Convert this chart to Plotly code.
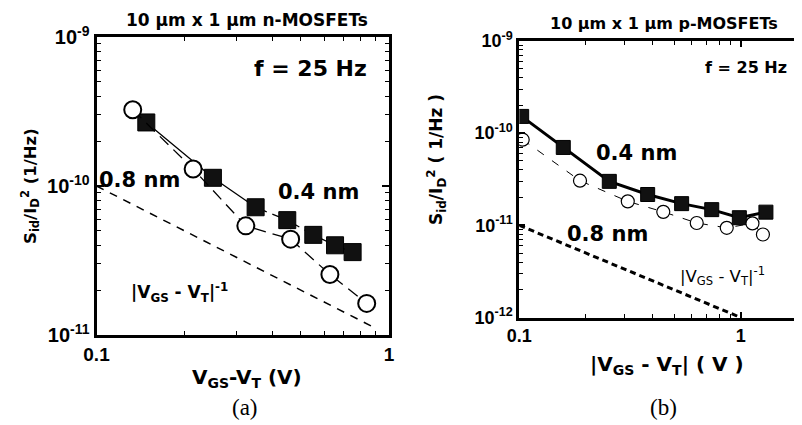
import plotly.graph_objects as go

# ---------------- data ----------------
# Panel (a): n-MOSFETs
a_sq_x = [0.148, 0.250, 0.350, 0.449, 0.551, 0.654, 0.751]          # 0.4 nm
a_sq_y = [2.67e-10, 1.135e-10, 7.2e-11, 5.9e-11, 4.7e-11, 4.0e-11, 3.6e-11]
a_ci_x = [0.133, 0.214, 0.324, 0.461, 0.628, 0.839]                  # 0.8 nm
a_ci_y = [3.25e-10, 1.30e-10, 5.4e-11, 4.4e-11, 2.55e-11, 1.63e-11]
a_ref_x = [0.1, 0.9]                                                  # |VGS-VT|^-1
a_ref_y = [1.0e-10, 1.11e-11]

# Panel (b): p-MOSFETs
b_sq_x = [0.1025, 0.158, 0.255, 0.380, 0.541, 0.740, 0.986, 1.30]   # 0.4 nm
b_sq_y = [1.52e-10, 7.0e-11, 3.0e-11, 2.16e-11, 1.72e-11, 1.48e-11, 1.21e-11, 1.39e-11]
b_ci_x = [0.1036, 0.188, 0.309, 0.447, 0.633, 0.865, 1.13, 1.26]    # 0.8 nm
b_ci_y = [8.5e-11, 3.05e-11, 1.82e-11, 1.40e-11, 1.06e-11, 9.4e-12, 1.05e-11, 7.95e-12]
b_ref_x = [0.1, 1.0]
b_ref_y = [1.0e-11, 1.0e-12]

# ticks
a_xticks = [0.1, 1]
a_xtext = ["0.1", "1"]
a_yticks = [1e-11, 1e-10, 1e-9]
a_ytext = ["10<sup>-11</sup>", "10<sup>-10</sup>", "10<sup>-9</sup>"]
b_xticks = [0.1, 1]
b_xtext = ["0.1", "1"]
b_yticks = [1e-12, 1e-11, 1e-10, 1e-9]
b_ytext = ["10<sup>-12</sup>", "10<sup>-11</sup>", "10<sup>-10</sup>", "10<sup>-9</sup>"]
minor_x = [0.2, 0.3, 0.4, 0.5, 0.6, 0.7, 0.8, 0.9, 2]
minor_y = [m * 10.0 ** e for e in (-12, -11, -10) for m in range(2, 10)]

# the page body has a default 8px margin; size the figure to fill the rest of the window
OFF = 8
W, H = 802 - OFF, 425 - OFF
SANS = "Liberation Sans, Arial, sans-serif"
WIDE = "DejaVu Sans, Verdana, sans-serif"
SERIF = "Liberation Serif, Times New Roman, serif"


def px(x):
    return (x - OFF) / W


def py(y):
    return 1 - (y - OFF) / H


fig = go.Figure()

# ---- panel (a) ----
fig.add_trace(go.Scatter(x=a_ref_x, y=a_ref_y, mode="lines",
                         line=dict(color="black", width=1.5, dash="8px,7px"),
                         xaxis="x", yaxis="y", showlegend=False))
fig.add_trace(go.Scatter(x=a_sq_x[:3], y=a_sq_y[:3], mode="lines",
                         line=dict(color="black", width=1.3),
                         xaxis="x", yaxis="y", showlegend=False))
fig.add_trace(go.Scatter(x=a_sq_x[2:], y=a_sq_y[2:], mode="lines",
                         line=dict(color="black", width=1.3, dash="12px,6px"),
                         xaxis="x", yaxis="y", showlegend=False))
fig.add_trace(go.Scatter(x=a_sq_x, y=a_sq_y, mode="markers",
                         marker=dict(symbol="square", size=17, color="#111111",
                                     line=dict(color="black", width=1)),
                         xaxis="x", yaxis="y", showlegend=False))
fig.add_trace(go.Scatter(x=a_ci_x, y=a_ci_y, mode="lines+markers",
                         line=dict(color="black", width=1.3, dash="12px,7px"),
                         marker=dict(symbol="circle", size=17, color="white",
                                     line=dict(color="black", width=2)),
                         xaxis="x", yaxis="y", showlegend=False))

# ---- panel (b) ----
fig.add_trace(go.Scatter(x=b_ref_x, y=b_ref_y, mode="lines",
                         line=dict(color="black", width=3, dash="6px,4px"),
                         xaxis="x2", yaxis="y2", showlegend=False))
fig.add_trace(go.Scatter(x=b_sq_x, y=b_sq_y, mode="lines+markers",
                         line=dict(color="black", width=3),
                         marker=dict(symbol="square", size=14, color="#111111",
                                     line=dict(color="black", width=1)),
                         xaxis="x2", yaxis="y2", showlegend=False))
fig.add_trace(go.Scatter(x=b_ci_x, y=b_ci_y, mode="lines+markers",
                         line=dict(color="black", width=1, dash="8px,10px"),
                         marker=dict(symbol="circle", size=13, color="white",
                                     line=dict(color="black", width=1.2)),
                         xaxis="x2", yaxis="y2", showlegend=False))

axis_common = dict(type="log", showline=True, linecolor="black", linewidth=3,
                   ticks="inside", tickcolor="black", tickwidth=1.5,
                   showgrid=False, zeroline=False, tickmode="array",
                   automargin=False)

fig.update_layout(
    template="none",
    width=W, height=H,
    margin=dict(l=0, r=0, t=0, b=0, pad=0),
    paper_bgcolor="white", plot_bgcolor="white",
    font=dict(family=SANS, color="black"),
    xaxis=dict(axis_common, domain=[px(96.5), px(389)], range=[-1, 0], anchor="y",
               mirror="ticks", ticklen=7,
               tickvals=a_xticks, ticktext=["<b>%s</b>" % t for t in a_xtext],
               tickfont=dict(size=19, family=SANS, color="black"),
               minor=dict(ticks="inside", ticklen=4, tickwidth=1.2, tickcolor="black",
                          tickmode="array", tickvals=minor_x, showgrid=False)),
    yaxis=dict(axis_common, domain=[py(335), py(37)], range=[-11, -9], anchor="x",
               mirror="ticks", ticklen=7,
               tickvals=a_yticks, ticktext=["<b>%s</b>" % t for t in a_ytext],
               tickfont=dict(size=20, family=SANS, color="black"),
               minor=dict(ticks="inside", ticklen=4, tickwidth=1.2, tickcolor="black",
                          tickmode="array", tickvals=minor_y, showgrid=False)),
    xaxis2=dict(axis_common, domain=[px(519.3), 1.0], range=[-1, 0.2769], anchor="y2",
                mirror="ticks", ticklen=6,
                tickvals=b_xticks, ticktext=["<b>%s</b>" % t for t in b_xtext],
                tickfont=dict(size=18, family=SANS, color="black"),
                minor=dict(ticks="inside", ticklen=4, tickwidth=1, tickcolor="black",
                           tickmode="array", tickvals=minor_x, showgrid=False)),
    yaxis2=dict(axis_common, domain=[py(317.5), py(41)], range=[-12, -9], anchor="x2",
                mirror=False, ticklen=6,
                tickvals=b_yticks, ticktext=["<b>%s</b>" % t for t in b_ytext],
                tickfont=dict(size=18, family=SANS, color="black"),
                minor=dict(ticks="inside", ticklen=4, tickwidth=1, tickcolor="black",
                           tickmode="array", tickvals=minor_y, showgrid=False)),
)

ann = []


def add(text, x, y, size, bold=True, family=WIDE, angle=0, xanchor="center"):
    t = "<b>%s</b>" % text if bold else text
    ann.append(dict(text=t, x=px(x), y=py(y), xref="paper", yref="paper",
                    showarrow=False, font=dict(size=size, family=family, color="black"),
                    textangle=angle, xanchor=xanchor, yanchor="middle", borderpad=0))


# panel (a) texts
add("10 \u03bcm x 1 \u03bcm n-MOSFETs", 247, 20, 17)
add("f = 25 Hz", 368, 69, 22, xanchor="right")
add("0.8 nm", 139, 180, 21)
add("0.4 nm", 318, 192, 21)
add("|V<sub>GS</sub> - V<sub>T</sub>|<sup>-1</sup>", 179, 292, 17)
add("V<sub>GS</sub>-V<sub>T</sub> (V)", 247, 378, 20)
add("(a)", 245, 407, 23, bold=False, family=SERIF)
add("S<sub>id</sub>/I<sub>D</sub><sup>2</sup> (1/Hz)", 30, 186, 16.5, angle=-90)

# panel (b) texts
add("10 \u03bcm x 1 \u03bcm p-MOSFETs", 664, 23, 16)
add("f = 25 Hz", 788, 67, 16, xanchor="right")
add("0.4 nm", 636, 153, 21)
add("0.8 nm", 607, 234, 21)
add("|V<sub>GS</sub> - V<sub>T</sub>|<sup>-1</sup>", 722, 276, 16.5, bold=False)
add("|V<sub>GS</sub> - V<sub>T</sub>| ( V )", 667, 365, 20)
add("(b)", 663, 407, 23, bold=False, family=SERIF)
add("S<sub>id</sub>/I<sub>D</sub><sup>2</sup> ( 1/Hz )", 437, 160, 17, angle=-90)

fig.update_layout(annotations=ann)

fig.write_html("out.html")
